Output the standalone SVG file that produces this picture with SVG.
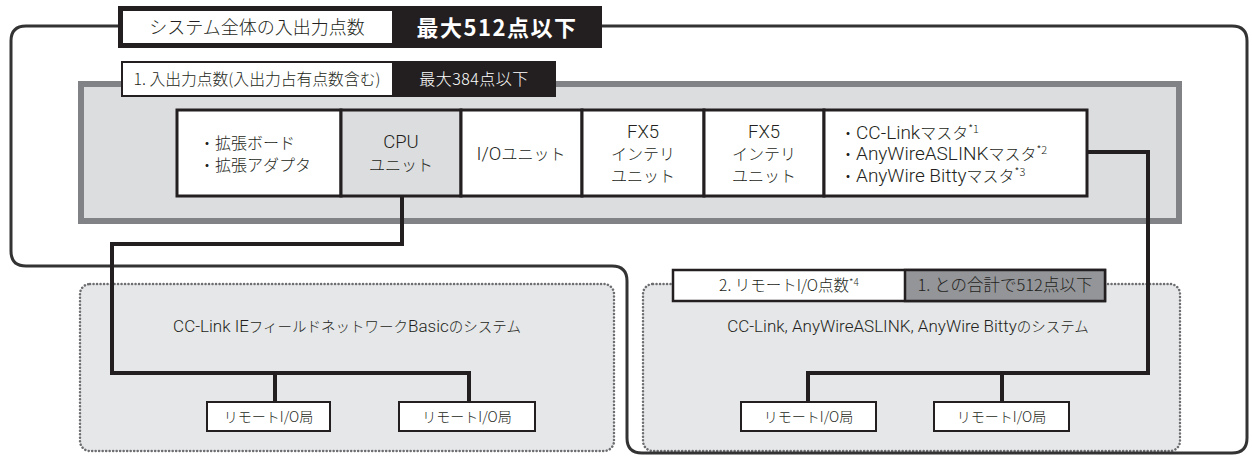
<svg xmlns="http://www.w3.org/2000/svg" width="1252" height="457" viewBox="0 0 1252 457">
<style>
text{font-family:"Noto Sans CJK JP","Liberation Sans",sans-serif;font-weight:300;fill:#231f20}
.lt{font-family:Roboto,"Liberation Sans",sans-serif;font-weight:300}
.box{fill:#fff;stroke:#231f20;stroke-width:3}
.gbox{fill:#dcdddf;stroke:#231f20;stroke-width:3}
.rbox{fill:#fff;stroke:#231f20;stroke-width:2}
.dot{fill:#e6e7e8;stroke:#6d6e71;stroke-width:2.5;stroke-dasharray:0.1 3.4;stroke-linecap:round}
.wire{fill:none;stroke:#231f20;stroke-width:4;stroke-linejoin:miter}
.outer{fill:none;stroke:#333;stroke-width:3}
.c{text-anchor:middle}
.n{font-size:16px}
.L{font-size:18.5px}
.M{font-size:19px}
.r{font-size:14px}
.s{font-size:14.5px}
.sl{font-size:17px}
.sup{font-size:11px}
</style>
<rect width="1252" height="457" fill="#fff"/>
<g id="system-left">
<rect class="dot" x="80" y="284" width="534" height="167" rx="10"/>
<text class="s c" x="347" y="332"><tspan class="lt sl">CC-Link IE</tspan>フィールドネットワーク<tspan class="lt sl">Basic</tspan>のシステム</text>
</g>
<g id="system-right">
<rect class="dot" x="643" y="284" width="537" height="167" rx="10"/>
<text class="s c" x="908" y="332"><tspan class="lt sl">CC-Link, AnyWireASLINK, AnyWire Bitty</tspan>のシステム</text>
</g>
<g id="outer-boundary">
<path class="outer" d="M602 26 H1232 Q1247 26 1247 41 V438 Q1247 453 1232 453 H642 Q627 453 627 438 V281 Q627 266 612 266 H26 Q11 266 11 251 V41 Q11 26 26 26 H118"/>
</g>
<g id="title-total">
<rect x="118" y="6" width="484" height="42" fill="#231f20"/>
<rect x="123" y="11" width="269" height="32" fill="#fff"/>
<text class="c" x="257" y="34" font-size="18">システム全体の入出力点数</text>
<text class="c" x="497" y="36" font-size="22" letter-spacing="1.5" style="fill:#fff;font-weight:bold">最大512点以下</text>
</g>
<g id="panel">
<rect x="81" y="84" width="1098" height="137" fill="#dcdddf" stroke="#808285" stroke-width="6"/>
</g>
<g id="title-io">
<rect x="121" y="61" width="435" height="36" fill="#231f20"/>
<rect x="123" y="63" width="269" height="32" fill="#fff"/>
<text class="c" x="257" y="85" font-size="15.8">1. 入出力点数(入出力占有点数含む)</text>
<text class="c" x="474" y="85" font-size="16" letter-spacing="0.5" style="fill:#fff">最大384点以下</text>
</g>
<g id="node-expansion">
<rect class="box" x="177" y="110" width="164" height="86"/>
<text class="n" x="199" y="149">・拡張ボード</text>
<text class="n" x="199" y="171">・拡張アダプタ</text>
</g>
<g id="node-cpu">
<rect class="gbox" x="341" y="110" width="120" height="86"/>
<text class="lt L c" x="401" y="148">CPU</text>
<text class="n c" x="401" y="171">ユニット</text>
</g>
<g id="node-io">
<rect class="box" x="461" y="110" width="121" height="86"/>
<text class="n c" x="521" y="160"><tspan class="lt L">I/O</tspan>ユニット</text>
</g>
<g id="node-fx5-1">
<rect class="box" x="582" y="110" width="122" height="86"/>
<text class="lt L c" x="643" y="137.5">FX5</text>
<text class="n c" x="643" y="160">インテリ</text>
<text class="n c" x="643" y="182">ユニット</text>
</g>
<g id="node-fx5-2">
<rect class="box" x="704" y="110" width="120" height="86"/>
<text class="lt L c" x="764" y="137.5">FX5</text>
<text class="n c" x="764" y="160">インテリ</text>
<text class="n c" x="764" y="182">ユニット</text>
</g>
<g id="node-master">
<rect class="box" x="824" y="110" width="263" height="86"/>
<text class="n" x="840" y="138.5">・<tspan class="lt M">CC-Link</tspan>マスタ<tspan class="sup" dy="-6">*1</tspan></text>
<text class="n" x="840" y="160">・<tspan class="lt M">AnyWireASLINK</tspan>マスタ<tspan class="sup" dy="-6">*2</tspan></text>
<text class="n" x="840" y="181.5">・<tspan class="lt M">AnyWire Bitty</tspan>マスタ<tspan class="sup" dy="-6">*3</tspan></text>
</g>
<g id="connectors">
<path class="wire" d="M402 196 V244 H112 V373 H469 V402 M275 373 V402"/>
<path class="wire" d="M1087 152 H1148 V373 H808 V402 M1002 373 V402"/>
</g>
<g id="label-remote">
<rect x="673" y="270" width="432" height="31" fill="#fff" stroke="#231f20" stroke-width="2.5"/>
<rect x="905" y="270" width="200" height="31" fill="#939598" stroke="#231f20" stroke-width="2.5"/>
<text class="c" x="789" y="291" font-size="15.5">2. リモートI/O点数<tspan font-size="10" dy="-5">*4</tspan></text>
<text class="c" x="1005" y="291" font-size="16.5">1. との合計で512点以下</text>
</g>
<g id="remote-1">
<rect class="rbox" x="207" y="402" width="123" height="29"/>
<text class="r c" x="268.5" y="421.5">リモートI/O局</text>
</g>
<g id="remote-2">
<rect class="rbox" x="399" y="402" width="136" height="29"/>
<text class="r c" x="467" y="421.5">リモートI/O局</text>
</g>
<g id="remote-3">
<rect class="rbox" x="741" y="402" width="135" height="29"/>
<text class="r c" x="808.5" y="421.5">リモートI/O局</text>
</g>
<g id="remote-4">
<rect class="rbox" x="934" y="402" width="135" height="29"/>
<text class="r c" x="1001.5" y="421.5">リモートI/O局</text>
</g>
</svg>
